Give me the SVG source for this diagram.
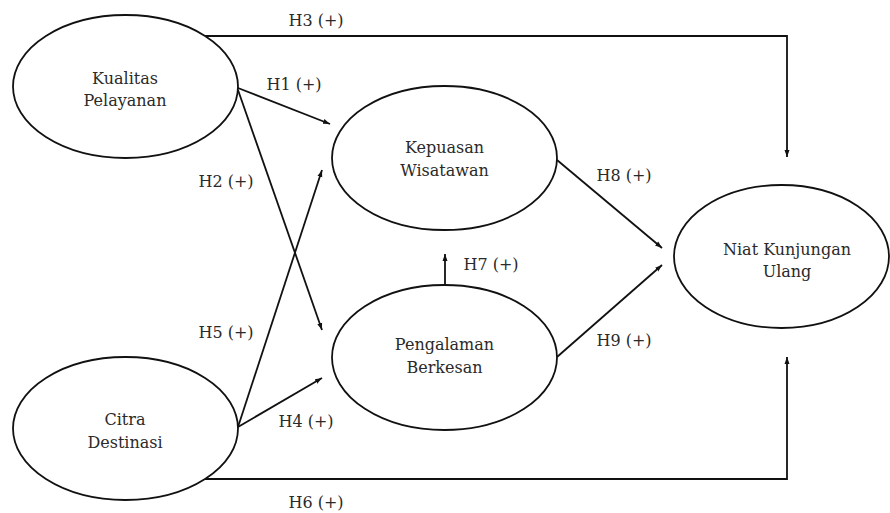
<svg xmlns="http://www.w3.org/2000/svg" width="890" height="513" viewBox="0 0 890 513">
<defs>
<marker id="ah" markerUnits="userSpaceOnUse" markerWidth="8" markerHeight="6" refX="7" refY="3" orient="auto">
<path d="M0,0.5 L7,3 L0,5.5 Z" fill="#111"/>
</marker>
<style>
.node ellipse{fill:#fff;stroke:#111;stroke-width:1.8}
text{font-family:'DejaVu Serif','Liberation Serif',serif;font-size:16px;fill:#2a2a2a;text-anchor:middle}
.conn path{fill:none;stroke:#111;stroke-width:1.8;marker-end:url(#ah)}
</style>
</defs>
<rect width="890" height="513" fill="#fff"/>
<g class="conn" id="connectors">
<path d="M203,36 H787 V157"/>
<path d="M205,479 H787 V357"/>
<path d="M238,88 L330,124"/>
<path d="M238,90 L322,330"/>
<path d="M238,427 L322,170"/>
<path d="M238,427 L322,378"/>
<path d="M445,285 V254"/>
<path d="M557,160 L662,248"/>
<path d="M557,357 L662,265"/>
</g>
<g id="labels">
<text x="316" y="26">H3 (+)</text>
<text x="294" y="90">H1 (+)</text>
<text x="226" y="187">H2 (+)</text>
<text x="226" y="338">H5 (+)</text>
<text x="306" y="427">H4 (+)</text>
<text x="316" y="508">H6 (+)</text>
<text x="491" y="270">H7 (+)</text>
<text x="624" y="181">H8 (+)</text>
<text x="624" y="346">H9 (+)</text>
</g>
<g class="node" id="kualitas">
<ellipse cx="125.5" cy="86.5" rx="112.5" ry="71.5"/>
<text x="125" y="84">Kualitas</text>
<text x="125" y="106">Pelayanan</text>
</g>
<g class="node" id="citra">
<ellipse cx="125.5" cy="428.5" rx="112.5" ry="71.5"/>
<text x="125" y="425">Citra</text>
<text x="125" y="448">Destinasi</text>
</g>
<g class="node" id="kepuasan">
<ellipse cx="444.5" cy="158" rx="112.5" ry="72"/>
<text x="444.5" y="153">Kepuasan</text>
<text x="444.5" y="176">Wisatawan</text>
</g>
<g class="node" id="pengalaman">
<ellipse cx="444.5" cy="357.5" rx="112.5" ry="72.5"/>
<text x="444.5" y="350">Pengalaman</text>
<text x="444.5" y="373">Berkesan</text>
</g>
<g class="node" id="niat">
<ellipse cx="781.5" cy="256.5" rx="107.5" ry="71.5"/>
<text x="787" y="255">Niat Kunjungan</text>
<text x="787" y="277">Ulang</text>
</g>
</svg>
